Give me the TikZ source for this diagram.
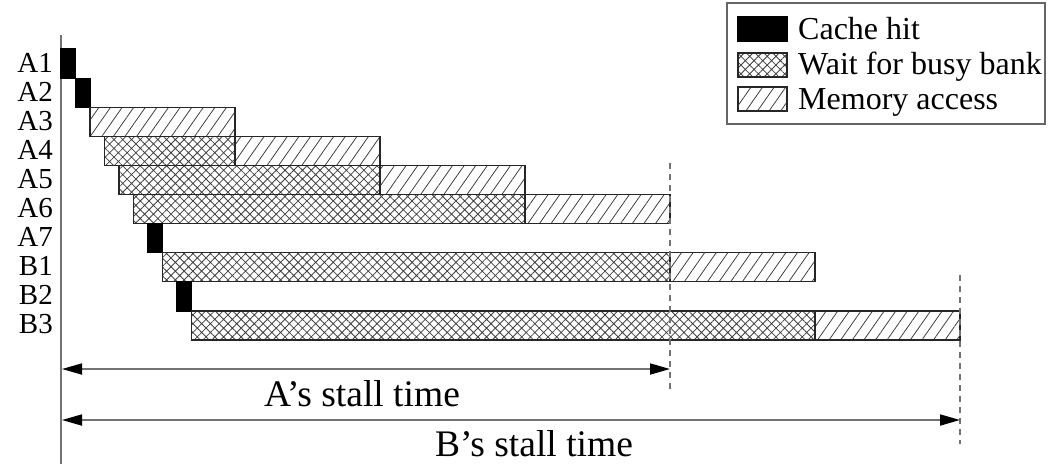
\documentclass[tikz,border=0pt]{standalone}
\usepackage{fontspec}
\setmainfont{Liberation Serif}
\usetikzlibrary{patterns.meta,arrows.meta}

% time axis: x = 61 + 14.5 t ; row r spans y = 49 + 29.1 r .. 49 + 29.1 (r+1)
\newcommand\seg[4]{%
  \draw[#1] ({61+14.5*#3},{49+29.1*#2}) rectangle ({61+14.5*#4},{49+29.1*(#2+1)});}
\newcommand\rowlabel[3]{%
  \node[rowlab] (#1) at (53,{49+29.1*#2+23}) {#3};}

\tikzset{
  seghit/.style={draw=black,fill=black,line width=1.2pt},
  segwait/.style={draw=black!85,line width=1.2pt,
    pattern={Hatch[angle=45,distance=6.2pt,line width=0.8pt]},pattern color=black!75},
  segmem/.style={draw=black!85,line width=1.2pt,
    pattern={Lines[angle=55,distance=9.5pt,line width=0.8pt]},pattern color=black!75},
  rowlab/.style={anchor=base east,inner sep=0pt,font=\fontsize{29}{31}\selectfont},
  legtext/.style={anchor=base west,inner sep=0pt,font=\fontsize{32}{34}\selectfont},
  guide/.style={draw=black!55,line width=1.6pt,dash pattern=on 6pt off 5pt},
  span/.style={draw=black!55,line width=1.8pt,
    {Triangle[length=20pt,width=11pt,fill=black,color=black]}-{Triangle[length=20pt,width=11pt,fill=black,color=black]}},
  spanlab/.style={anchor=base,inner sep=0pt,font=\fontsize{37.5}{39}\selectfont}
}

\begin{document}
\begin{tikzpicture}[x=1pt,y=-1pt]
\useasboundingbox (0,0) rectangle (1048,464);

% vertical time axis
\coordinate (axtop) at (61,35);
\coordinate (axbot) at (61,464);
\draw[draw=black!55,line width=1.8pt] (axtop) -- (axbot);

% row labels
\rowlabel{la1}{0}{A1}
\rowlabel{la2}{1}{A2}
\rowlabel{la3}{2}{A3}
\rowlabel{la4}{3}{A4}
\rowlabel{la5}{4}{A5}
\rowlabel{la6}{5}{A6}
\rowlabel{la7}{6}{A7}
\rowlabel{lb1}{7}{B1}
\rowlabel{lb2}{8}{B2}
\rowlabel{lb3}{9}{B3}

% request timelines
\seg{seghit}{0}{0}{1}
\seg{seghit}{1}{1}{2}
\seg{segmem}{2}{2}{12}
\seg{segwait}{3}{3}{12}
\seg{segmem}{3}{12}{22}
\seg{segwait}{4}{4}{22}
\seg{segmem}{4}{22}{32}
\seg{segwait}{5}{5}{32}
\seg{segmem}{5}{32}{42}
\seg{seghit}{6}{6}{7}
\seg{segwait}{7}{7}{42}
\seg{segmem}{7}{42}{52}
\seg{seghit}{8}{8}{9}
\seg{segwait}{9}{9}{52}
\seg{segmem}{9}{52}{62}

% end-of-stall guides
\coordinate (aendtop) at (670,163);
\coordinate (aendbot) at (670,392);
\coordinate (bendtop) at (960,275);
\coordinate (bendbot) at (960,444);
\draw[guide] (aendtop) -- (aendbot);
\draw[guide] (bendtop) -- (bendbot);

% stall spans
\coordinate (astart) at (62,369);
\coordinate (aend) at (670,369);
\coordinate (bstart) at (62,420);
\coordinate (bend) at (960,420);
\draw[span] (astart) -- (aend);
\draw[span] (bstart) -- (bend);
\node[spanlab] (alab) at (362,406) {A’s stall time};
\node[spanlab] (blab) at (534,456) {B’s stall time};

% legend
\draw[draw=black!60,line width=1.5pt,fill=white] (727,3) rectangle (1045,124);
\draw[seghit] (738,17) rectangle (787,41);
\draw[segwait] (738,53) rectangle (787,77);
\draw[segmem] (738,87) rectangle (787,111);
\node[legtext] (kh) at (798,39) {Cache hit};
\node[legtext] (kw) at (798,74) {Wait for busy bank};
\node[legtext] (km) at (798,109) {Memory access};
\end{tikzpicture}
\end{document}
